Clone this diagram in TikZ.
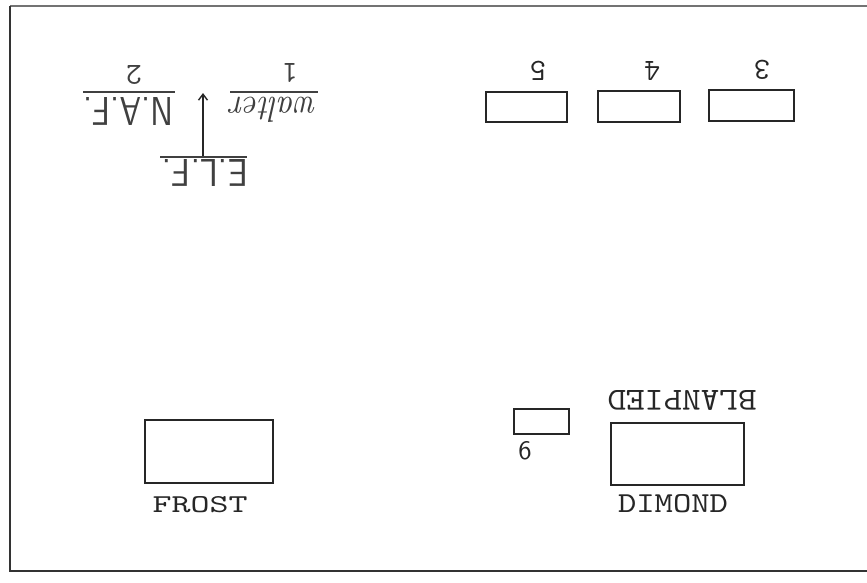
\documentclass[tikz,border=0pt]{standalone}
\usetikzlibrary{arrows.meta}
\tikzset{
  box/.style={draw=black!85, line width=2.2pt, inner sep=0pt},
  lbl/.style={inner sep=0pt, text=black!85},
  flip/.style={lbl, rotate=180},
  hand/.style={flip, text=black!75},
  uline/.style={draw=black!75, line width=1.3pt},
  arr/.style={draw=black!85, line width=1.4pt, -{Straight Barb[length=6pt,width=9pt]}},
  frame/.style={draw=black!80, line width=2pt},
}
\newcommand{\dig}[1]{\resizebox{!}{19pt}{\ttfamily #1}}
\begin{document}
\begin{tikzpicture}[x=1pt,y=-1pt]
\useasboundingbox (0,0) rectangle (867,582);
% frame
\draw[draw=black!55, line width=1.2pt] (867,6) -- (10,6);
\draw[frame] (10,6) -- (10,571) -- (867,571);
% top boxes
\node[box, minimum width=81pt, minimum height=30pt] (b5) at (526.5,107) {};
\node[box, minimum width=82pt, minimum height=31pt] (b4) at (639,106.5) {};
\node[box, minimum width=85pt, minimum height=31pt] (b3) at (751.5,105.5) {};
\node[flip] (n5) at (538,71) {\dig{5}};
\node[flip] (n4) at (652,71) {\dig{4}};
\node[flip] (n3) at (762,70) {\dig{3}};
% top left names
\node[hand] (n2) at (134,75) {\dig{2}};
\node[hand] (n1) at (290,73) {\dig{1}};
\node[hand] (naf) at (128,111) {\resizebox{90pt}{28pt}{\sffamily N.A.F.}};
\node[hand] (walter) at (274,110) {\resizebox{87pt}{25pt}{\itshape walter}};
\node[hand] (elf) at (205,173) {\resizebox{86pt}{27pt}{\sffamily E.L.F.}};
\draw[uline] (83,92) -- (175,92);
\draw[uline] (230,92) -- (318,92);
\draw[uline] (160,157) -- (247,157);
\coordinate (atail) at (203,156);
\coordinate (ahead) at (203,93);
\draw[arr] (atail) -- (ahead);
% bottom
\node[box, minimum width=128pt, minimum height=63pt] (frost) at (209,451.5) {};
\node[lbl] (frostl) at (200,505) {\resizebox{95pt}{16pt}{\ttfamily FROST}};
\node[box, minimum width=55pt, minimum height=25pt] (b6) at (541.5,421.5) {};
\node[lbl] (n6) at (525,451) {\resizebox{!}{18pt}{\sffamily 6}};
\node[box, minimum width=133pt, minimum height=62pt] (dimond) at (677.5,454) {};
\node[lbl] (dimondl) at (673,504) {\resizebox{110pt}{18pt}{\ttfamily DIMOND}};
\node[flip] (blan) at (682,400) {\resizebox{149pt}{20pt}{\ttfamily BLANPIED}};
\end{tikzpicture}
\end{document}
